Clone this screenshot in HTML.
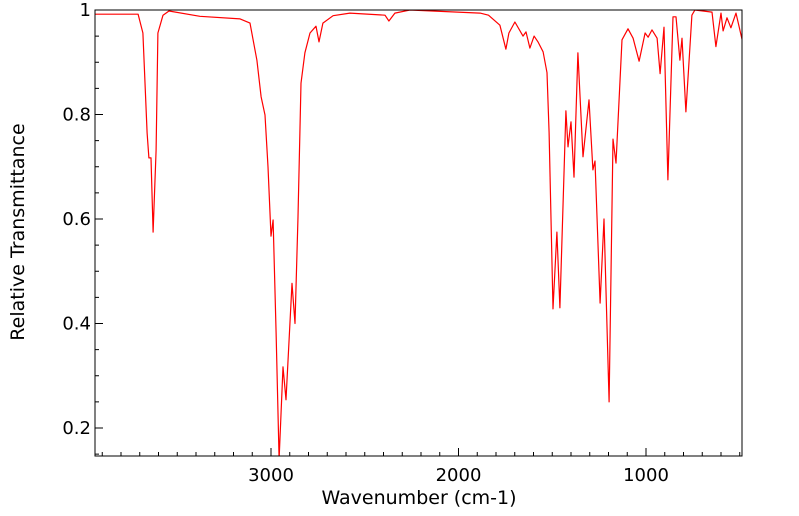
<!DOCTYPE html>
<html><head><meta charset="utf-8"><style>
html,body{margin:0;padding:0;background:#fff;width:799px;height:516px;overflow:hidden}
text{font-family:"DejaVu Sans","Liberation Sans",sans-serif}
</style></head><body>
<svg id="chart" width="799" height="516" xmlns="http://www.w3.org/2000/svg"></svg>
<script>
const wavenumbers=[3939,3709,3683,3661,3651,3640,3629,3613,3603,3576,3544,3379,3165,3112,3075,3053,3032,3016,3000,2989,2973,2957,2936,2920,2888,2872,2856,2840,2819,2792,2760,2744,2723,2669,2579,2392,2371,2339,2259,1885,1840,1779,1747,1731,1699,1656,1640,1619,1597,1576,1549,1528,1517,1496,1475,1459,1427,1416,1400,1384,1363,1336,1304,1283,1272,1245,1224,1197,1176,1160,1128,1096,1069,1037,1005,989,968,941,925,904,883,856,840,819,808,787,755,739,648,627,600,589,568,547,520,488];
const transmittance=[0.992,0.992,0.956,0.765,0.717,0.717,0.575,0.732,0.956,0.99,0.998,0.988,0.983,0.975,0.904,0.834,0.799,0.70,0.567,0.598,0.382,0.14,0.317,0.254,0.477,0.40,0.604,0.86,0.918,0.956,0.969,0.939,0.975,0.989,0.994,0.99,0.979,0.994,1.0,0.994,0.99,0.971,0.925,0.956,0.977,0.95,0.958,0.927,0.95,0.939,0.92,0.88,0.765,0.428,0.575,0.43,0.807,0.738,0.786,0.68,0.918,0.719,0.828,0.694,0.711,0.439,0.60,0.25,0.753,0.707,0.943,0.964,0.946,0.902,0.956,0.948,0.962,0.946,0.878,0.967,0.675,0.987,0.987,0.904,0.946,0.805,0.99,1.0,0.996,0.93,0.994,0.96,0.985,0.966,0.994,0.944];
const yTicks=[0.2,0.4,0.6,0.8,1];
const yTickLabels=["0.2","0.4","0.6","0.8","1"];
const xTicks=[3000,2000,1000];
const xTickLabels=["3000","2000","1000"];

const L=95,R=742,T=10,B=456;
const X0=3000,XPX0=271,XS=0.1875;
const Y1=1,YPX1=10,YS=522.5;
const xs=w=>XPX0+(X0-w)*XS;
const ys=v=>YPX1+(Y1-v)*YS;
const wMax=X0+(XPX0-L)/XS, wMin=X0-(R-XPX0)/XS;
const vMin=Y1-(B-YPX1)/YS;
const svg=document.getElementById('chart');
const NS='http://www.w3.org/2000/svg';
function mk(tag,attrs,parent){const e=document.createElementNS(NS,tag);for(const k in attrs)e.setAttribute(k,attrs[k]);(parent||svg).appendChild(e);return e;}

const clip=mk('clipPath',{id:'pc'});mk('rect',{x:L,y:T,width:R-L,height:B-T},clip);

const pts=wavenumbers.map((w,i)=>xs(w).toFixed(1)+','+ys(transmittance[i]).toFixed(1)).join(' ');
const line=mk('polyline',{points:pts,fill:'none',stroke:'#ff0000','stroke-width':1.2,'stroke-linejoin':'round','clip-path':'url(#pc)'});



const frame=mk('rect',{x:L,y:T,width:R-L,height:B-T,fill:'none',stroke:'#000','stroke-width':1});



const xg=mk('g',{});


for(let w=Math.ceil(wMin/100)*100;w<=wMax;w+=100){
  const major=w%1000===0;
  mk('line',{x1:xs(w),x2:xs(w),y1:B,y2:B-(major?8:4),stroke:'#000','stroke-width':1},xg);
}
xTicks.forEach((w,i)=>{
  const t=mk('text',{x:xs(w),y:B+25,'text-anchor':'middle','font-size':18,fill:'#000'},xg);
  t.textContent=xTickLabels[i];
  
  
});
const xt=mk('text',{x:419,y:504,'text-anchor':'middle','font-size':19,fill:'#000'});
xt.textContent='Wavenumber (cm-1)';



const yg=mk('g',{});


for(let k=Math.ceil(vMin/0.05);k*0.05<=1.0001;k++){
  const v=k*0.05;const major=k%4===0;
  mk('line',{x1:L,x2:L+(major?8:4),y1:ys(v),y2:ys(v),stroke:'#000','stroke-width':1},yg);
}
yTicks.forEach((v,i)=>{
  const t=mk('text',{x:L-4,y:ys(v)+6,'text-anchor':'end','font-size':18,fill:'#000'},yg);
  t.textContent=yTickLabels[i];
  
  
});
const yt=mk('text',{x:24,y:232,'text-anchor':'middle','font-size':19,fill:'#000',transform:'rotate(-90 24 232)'});
yt.textContent='Relative Transmittance';


</script>
</body></html>
